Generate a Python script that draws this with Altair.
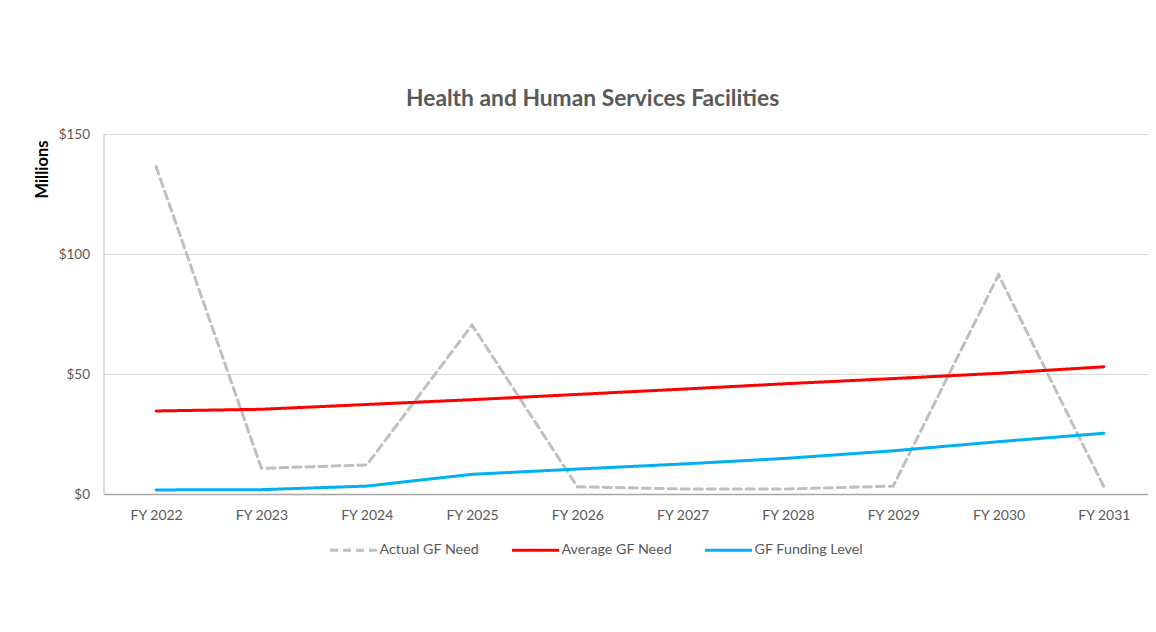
import altair as alt
import pandas as pd

years = ["FY 2022", "FY 2023", "FY 2024", "FY 2025", "FY 2026",
         "FY 2027", "FY 2028", "FY 2029", "FY 2030", "FY 2031"]
actual_need = [136.4, 10.7, 12.1, 70.4, 3.0, 2.1, 2.1, 3.3, 91.3, 3.0]
average_need = [34.6, 35.3, 37.3, 39.3, 41.5, 43.7, 46.0, 48.1, 50.3, 53.0]
funding_level = [1.7, 1.8, 3.3, 8.2, 10.4, 12.5, 14.9, 18.0, 21.8, 25.3]

series_names = ["Actual GF Need", "Average GF Need", "GF Funding Level"]
series_colors = ["#bfbfbf", "#ff0000", "#00b0f0"]
series_dash = [[8, 5], [1, 0], [1, 0]]

rows = []
for name, vals in zip(series_names, [actual_need, average_need, funding_level]):
    for y, v in zip(years, vals):
        rows.append({"Year": y, "Value": v, "Series": name})
df = pd.DataFrame(rows)

FONT = "Lato"
GRAY = "#595959"

legend_cfg = dict(title=None, orient="none", direction="horizontal",
                  legendX=225, legendY=391,
                  symbolType="stroke", symbolSize=2209,
                  symbolStrokeWidth=3, labelFont=FONT,
                  labelFontSize=14.3, labelColor=GRAY,
                  labelOffset=1, columnPadding=26)

chart = alt.Chart(df).mark_line(strokeWidth=3, strokeCap="round").encode(
    x=alt.X("Year:N", sort=years,
            scale=alt.Scale(type="point", padding=0.5, range=[0, 1053]),
            axis=alt.Axis(title=None, labelAngle=0, ticks=False, grid=False,
                          domainColor="#a6a6a6", domainWidth=1.5,
                          labelColor=GRAY, labelFont=FONT, labelFontSize=14,
                          labelPadding=14)),
    y=alt.Y("Value:Q", scale=alt.Scale(domain=[0, 150], nice=False),
            axis=alt.Axis(title="Millions", values=[0, 50, 100, 150],
                          labelExpr="'$' + datum.value",
                          ticks=False, domainColor="#bfbfbf", gridColor="#d9d9d9",
                          labelColor=GRAY, labelFont=FONT, labelFontSize=13.5,
                          labelPadding=14,
                          titleFont=FONT, titleFontSize=16.5, titleFontWeight="bold",
                          titleColor="#000000", titleAngle=-90,
                          titleX=-61, titleY=35, titleAlign="center",
                          titleBaseline="middle")),
    color=alt.Color("Series:N", scale=alt.Scale(domain=series_names, range=series_colors),
                    legend=alt.Legend(**legend_cfg)),
    strokeDash=alt.StrokeDash("Series:N", scale=alt.Scale(domain=series_names, range=series_dash),
                              legend=alt.Legend(**legend_cfg)),
).properties(
    width=1044,
    height=360,
    title=alt.Title("Health and Human Services Facilities", font=FONT, fontSize=22.8,
                    fontWeight="bold", color=GRAY, anchor="start", dx=302.5,
                    offset=16, frame="group"),
    autosize=alt.AutoSizeParams(type="none"),
    padding={"left": 95.5, "top": 126, "right": 0, "bottom": 100},
).configure_view(stroke=None)

chart.save("out.html", embed_options={"renderer": "svg", "actions": False})
